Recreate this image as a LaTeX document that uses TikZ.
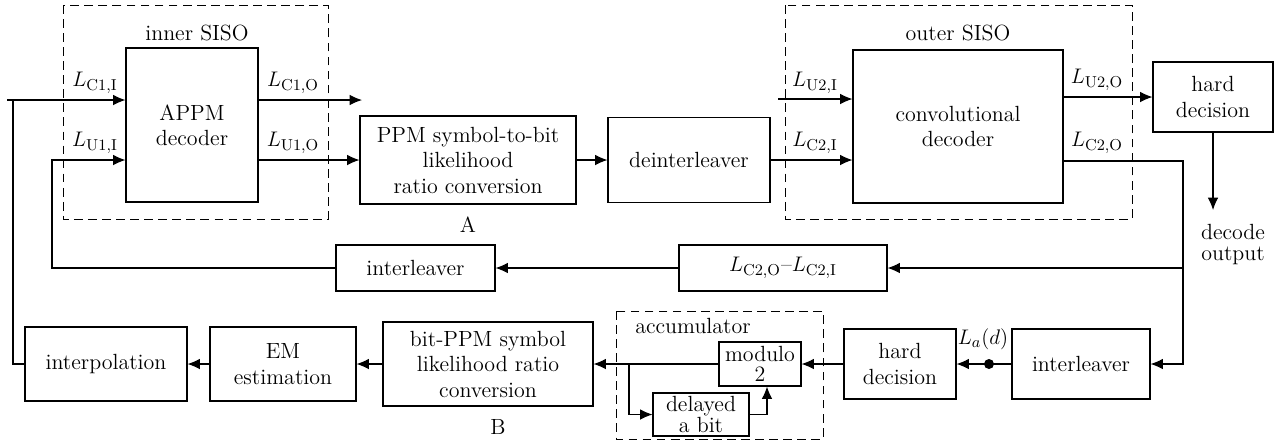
\documentclass[tikz,border=0pt]{standalone}
\usetikzlibrary{arrows.meta}

\tikzset{
	every node/.style={font=\fontsize{12.5}{14.5}\selectfont},
	block/.style={draw, align=center, inner sep=2pt},
	siso/.style={draw, line width=0.5pt, dash pattern=on 5pt off 3pt},
	lbl/.style={inner sep=1pt},
}

\begin{document}
\begin{tikzpicture}[>={Latex[length=7pt,width=6pt]}, line width=0.6pt]
	\useasboundingbox (0,0) rectangle (25.54,-8.82);

	\draw[siso] (1.26,-0.10) rectangle (6.56,-4.38);
	\draw[siso] (15.70,-0.10) rectangle (22.64,-4.38);
	\draw[siso] (12.32,-6.22) rectangle (16.46,-8.78);
	\node (innerlbl) at (3.94,-0.66) {inner SISO};
	\node (outerlbl) at (19.16,-0.66) {outer SISO};
	\node (acclbl) at (13.86,-6.52) {accumulator};

	\node[block, minimum width=2.64cm, minimum height=3.08cm] (appm) at (3.84,-2.50) {APPM\\decoder};
	\node[block, minimum width=4.32cm, minimum height=1.76cm] (ppm) at (9.36,-3.20) {PPM symbol-to-bit\\likelihood\\ratio conversion};
	\node (A) at (9.36,-4.50) {A};
	\node[block, minimum width=3.24cm, minimum height=1.70cm] (deint) at (13.78,-3.20) {deinterleaver};
	\node[block, minimum width=4.20cm, minimum height=3.06cm] (conv) at (19.16,-2.53) {convolutional\\decoder};
	\node[block, minimum width=2.40cm, minimum height=1.40cm] (hardtop) at (24.26,-1.94) {hard\\decision};
	\node[align=center, inner sep=1pt] (deco) at (24.66,-4.89) {decode\\[-2pt]output};

	\node[block, minimum width=3.18cm, minimum height=0.92cm] (ileavemid) at (8.31,-5.36) {interleaver};
	\node[block, minimum width=4.16cm, minimum height=0.92cm] (diff) at (15.66,-5.36) {$L_{\mathrm{C2,O}}$--$L_{\mathrm{C2,I}}$};

	\node[block, minimum width=3.24cm, minimum height=1.48cm] (interp) at (2.12,-7.28) {interpolation};
	\node[block, minimum width=2.92cm, minimum height=1.48cm] (em) at (5.66,-7.28) {EM\\estimation};
	\node[block, minimum width=4.20cm, minimum height=1.68cm] (bitppm) at (9.76,-7.28) {bit-PPM symbol\\likelihood ratio\\conversion};
	\node (B) at (9.96,-8.54) {B};
	\node[block, minimum width=1.64cm, minimum height=0.88cm, inner sep=1pt] (modulo) at (15.20,-7.28) {modulo\\[-3pt]2};
	\node[block, minimum width=1.92cm, minimum height=0.86cm, inner sep=1pt] (delayed) at (14.02,-8.29) {delayed\\[-3pt]a bit};
	\node[block, minimum width=2.24cm, minimum height=1.40cm] (hardbot) at (18.00,-7.28) {hard\\decision};
	\node[block, minimum width=2.76cm, minimum height=1.40cm] (ileavebot) at (21.62,-7.28) {interleaver};
	\node[circle, fill, inner sep=0pt, minimum size=0.2cm] (dot) at (19.78,-7.28) {};

	\coordinate (in) at (0.14,-2.00);
	\coordinate (tap) at (0.26,-2.00);
	\coordinate (u1) at (1.04,-3.20);
	\coordinate (c1out) at (7.24,-2.00);
	\coordinate (u2in) at (15.56,-1.98);
	\coordinate (c2out) at (23.66,-3.22);
	\coordinate (outend) at (24.26,-4.20);
	\coordinate (br) at (12.58,-7.28);

	\draw[->] (in) -- (in -| appm.west);
	\draw (tap) |- (interp.west);
	\draw[->] (ileavemid.west) -| (u1) -- (u1 -| appm.west);
	\draw[->] (c1out -| appm.east) -- (c1out);
	\draw[->] (appm.east |- ppm.west) -- (ppm.west);
	\draw[->] (ppm) -- (deint);
	\draw[->] (deint.east) -- (deint.east -| conv.west);
	\draw[->] (u2in) -- (u2in -| conv.west);
	\draw[->] (conv.east |- hardtop.west) -- (hardtop.west);
	\draw[->] (hardtop) -- (outend);
	\draw[->] (c2out -| conv.east) -- (c2out) |- (ileavebot.east);
	\draw[->] (c2out |- diff.east) -- (diff.east);
	\draw[->] (diff) -- (ileavemid);
	\draw[->] (ileavebot) -- (hardbot);
	\draw[->] (hardbot) -- (modulo);
	\draw[->] (modulo) -- (bitppm);
	\draw[->] (br) |- (delayed.west);
	\draw[->] (delayed.east) -| ([xshift=0.14cm]modulo.south);
	\draw[->] (bitppm) -- (em);
	\draw[->] (em) -- (interp);

	\node[lbl] (lc1i) at (1.90,-1.66) {$L_{\mathrm{C1,I}}$};
	\node[lbl] (lu1i) at (1.90,-2.86) {$L_{\mathrm{U1,I}}$};
	\node[lbl] (lc1o) at (5.86,-1.66) {$L_{\mathrm{C1,O}}$};
	\node[lbl] (lu1o) at (5.86,-2.86) {$L_{\mathrm{U1,O}}$};
	\node[lbl] (lu2i) at (16.30,-1.66) {$L_{\mathrm{U2,I}}$};
	\node[lbl] (lc2i) at (16.30,-2.86) {$L_{\mathrm{C2,I}}$};
	\node[lbl] (lu2o) at (21.94,-1.60) {$L_{\mathrm{U2,O}}$};
	\node[lbl] (lc2o) at (21.94,-2.86) {$L_{\mathrm{C2,O}}$};
	\node[lbl] (lad) at (19.66,-6.78) {$L_a(d)$};
\end{tikzpicture}
\end{document}
